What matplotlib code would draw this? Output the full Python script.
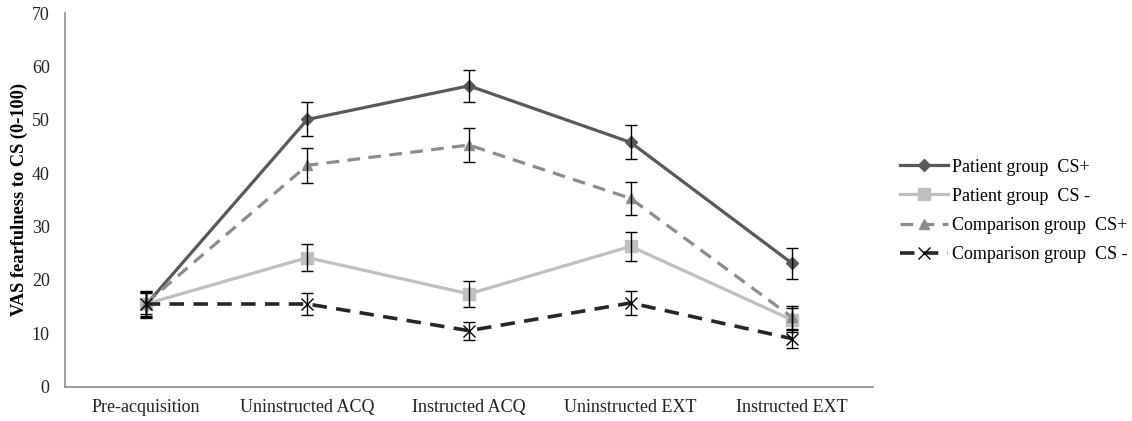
import numpy as np
import matplotlib
matplotlib.use("Agg")
from matplotlib import pyplot

# mean VAS ratings and SEMs per phase
phases = ['Pre-acquisition', 'Uninstructed ACQ', 'Instructed ACQ', 'Uninstructed EXT', 'Instructed EXT']
labels = ['Patient group  CS+', 'Patient group  CS -', 'Comparison group  CS+', 'Comparison group  CS -']

pat_csp     = [15.3, 50.1, 56.4, 45.8, 23.1]
pat_csp_err = [2.5, 3.2, 3.0, 3.2, 2.9]
pat_csm     = [15.5, 24.2, 17.4, 26.3, 12.5]
pat_csm_err = [2.3, 2.6, 2.5, 2.7, 2.2]
com_csp     = [15.6, 41.5, 45.3, 35.3, 13.0]
com_csp_err = [2.0, 3.3, 3.2, 3.1, 2.2]
com_csm     = [15.5, 15.5, 10.5, 15.7, 9.0]
com_csm_err = [2.5, 2.1, 1.7, 2.2, 1.7]

means = [pat_csp, pat_csm, com_csp, com_csm]
errs  = [pat_csp_err, pat_csm_err, com_csp_err, com_csm_err]
colors  = ['#595959', '#bfbfbf', '#8c8c8c', '#262626']
styles  = ['-', '-', (0, (4, 2.6)), (0, (4, 2.6))]
widths  = [2.3, 2.3, 2.3, 2.6]
markers = ['D', 's', '^', 'x']
msizes  = [6.5, 8, 7, 8]

pyplot.rcParams['font.family'] = ['Liberation Serif', 'DejaVu Serif']

fig = pyplot.figure(figsize=(11.32, 4.21), dpi=100)
ax  = fig.add_axes([0.0574, 0.0815, 0.7138, 0.887])
x   = np.arange(len(phases))

for m, e, c, ls, lw, mk, ms, lab in zip(means, errs, colors, styles, widths, markers, msizes, labels):
	mec = 'k' if mk == 'x' else c
	ax.plot(x, m, ls=ls, color=c, lw=lw, marker=mk, ms=ms, mfc=c, mec=mec, mew=1.0, label=lab, zorder=2)
	ax.errorbar(x, m, yerr=e, fmt='none', ecolor='k', elinewidth=1.0, capsize=4, capthick=1.0, zorder=3)

ax.set_xlim(-0.5, 4.5)
ax.set_ylim(0, 70)
ax.set_yticks(np.arange(0, 71, 10))
ax.set_xticks(x)
ax.set_xticklabels(phases)
ax.tick_params(length=0, labelsize=13, colors='#222222', pad=9)
ax.tick_params(axis='y', pad=11)
for s in ['top', 'right']:
	ax.spines[s].set_visible(False)
for s in ['left', 'bottom']:
	ax.spines[s].set_color('#8c8c8c')
	ax.spines[s].set_linewidth(1.2)
ax.set_ylabel('VAS fearfulness to CS (0-100)', fontsize=13.2, fontweight='bold')
ax.yaxis.set_label_coords(-0.0455, 0.5)

leg = fig.legend(loc='center left', bbox_to_anchor=(0.781, 0.499), frameon=False, fontsize=13,
	handlelength=2.65, handletextpad=0.2, labelspacing=0.68)

pyplot.savefig('out.png', dpi=100)
